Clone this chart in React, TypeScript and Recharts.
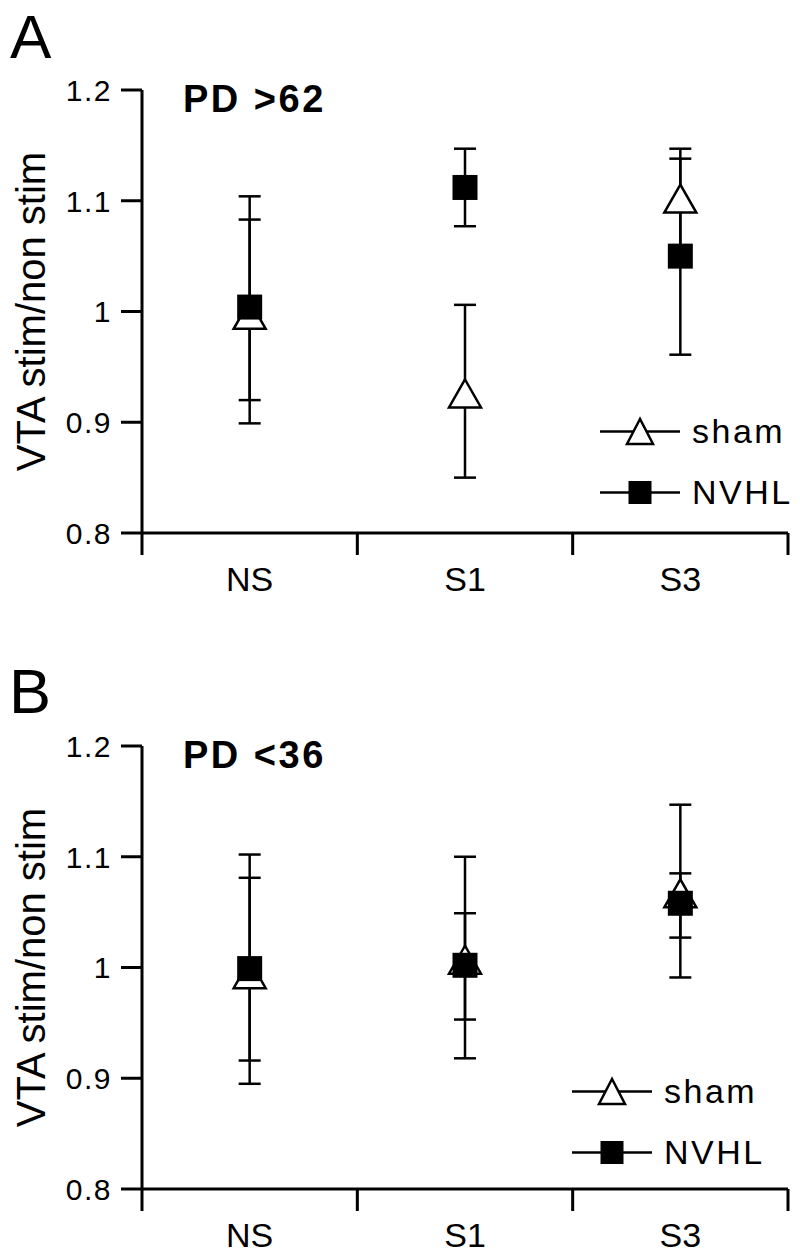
import React from 'react';
import { ScatterChart, Scatter, XAxis, YAxis, ErrorBar, Legend } from 'recharts';

const categories = ['NS', 'S1', 'S3'];
const seriesNames = ['sham', 'NVHL'];
const yTicks = [0.8, 0.9, 1, 1.1, 1.2];
const xBounds = [0, 0.5, 1, 1.5, 2, 2.5, 3];

// A: PD >62
const shamMeanA = [0.997, 0.926, 1.102];
const shamLowA = [0.92, 0.85, 1.057];
const shamHighA = [1.083, 1.006, 1.147];
const nvhlMeanA = [1.004, 1.112, 1.05];
const nvhlLowA = [0.899, 1.077, 0.961];
const nvhlHighA = [1.104, 1.147, 1.138];

// B: PD <36
const shamMeanB = [0.994, 1.007, 1.067];
const shamLowB = [0.916, 0.918, 0.991];
const shamHighB = [1.081, 1.1, 1.147];
const nvhlMeanB = [0.999, 1.002, 1.058];
const nvhlLowB = [0.895, 0.953, 1.027];
const nvhlHighB = [1.102, 1.049, 1.085];

const FONT = '"Liberation Sans", Arial, Helvetica, sans-serif';
const INK = '#000';
const X_TICK_LEN = 22;
const X_LABEL_GAP = 34;

const toRows = (mean: number[], low: number[], high: number[]) =>
  categories.map((c, i) => ({
    cat: c,
    x: i + 0.5,
    y: mean[i],
    err: [mean[i] - low[i], high[i] - mean[i]],
  }));

const Triangle = (props: any) => {
  const { cx, cy } = props;
  return (
    <polygon
      points={`${cx},${cy - 14} ${cx - 16},${cy + 14} ${cx + 16},${cy + 14}`}
      fill="#fff"
      stroke={INK}
      strokeWidth={2.5}
    />
  );
};

const Square = (props: any) => {
  const { cx, cy } = props;
  return <rect x={cx - 12.5} y={cy - 12.5} width={25} height={25} fill={INK} />;
};

const NoMark = () => <g />;

const CategoryTick = (props: any) => {
  const { x, y, payload } = props;
  const v = payload.value as number;
  if (Number.isInteger(v)) {
    const y0 = y - X_LABEL_GAP;
    return <line x1={x} x2={x} y1={y0} y2={y0 + X_TICK_LEN} stroke={INK} strokeWidth={3} />;
  }
  return (
    <text x={x} y={y} dy="0.72em" textAnchor="middle" fontSize={34} fontFamily={FONT} fill={INK}>
      {categories[Math.floor(v)]}
    </text>
  );
};

const ValueTick = (props: any) => {
  const { x, y, payload } = props;
  return (
    <text x={x} y={y} dy="0.36em" textAnchor="end" fontSize={30} letterSpacing={1.5} fontFamily={FONT} fill={INK}>
      {String(payload.value)}
    </text>
  );
};

const legendIcons: Record<string, React.ReactNode> = {
  sham: <polygon points="40,3 27,28 53,28" fill="#fff" stroke={INK} strokeWidth={2.5} />,
  NVHL: <rect x={28.5} y={4} width={23} height={23} fill={INK} />,
};

const LegendBox = (props: any) => {
  const { payload = [] } = props;
  const shown = seriesNames.filter((n) => payload.some((p: any) => p.value === n));
  return (
    <div style={{ fontFamily: FONT }}>
      {shown.map((name) => (
        <div key={name} style={{ display: 'flex', alignItems: 'center', height: 61 }}>
          <svg width={80} height={31}>
            <line x1={0} x2={80} y1={15.5} y2={15.5} stroke={INK} strokeWidth={2.5} />
            {legendIcons[name]}
          </svg>
          <span style={{ marginLeft: 12, fontSize: 34, letterSpacing: 2.5, color: INK }}>{name}</span>
        </div>
      ))}
    </div>
  );
};

const Panel = ({ top, sham, nvhl, legendLeft, legendTop }: any) => (
  <div style={{ position: 'absolute', left: 0, top }}>
    <ScatterChart width={800} height={600} margin={{ top: 90, right: 12, bottom: 0, left: 0 }}>
      <XAxis
        type="number"
        dataKey="x"
        domain={[0, 3]}
        ticks={xBounds}
        interval={0}
        tickLine={false}
        tickSize={0}
        tickMargin={X_LABEL_GAP}
        tick={CategoryTick}
        axisLine={{ stroke: INK, strokeWidth: 3 }}
        height={67}
      />
      <YAxis
        type="number"
        dataKey="y"
        domain={[0.8, 1.2]}
        ticks={yTicks}
        interval={0}
        width={142}
        tickSize={21}
        tickMargin={9}
        axisLine={{ stroke: INK, strokeWidth: 3 }}
        tickLine={{ stroke: INK, strokeWidth: 3 }}
        tick={ValueTick}
        label={{
          value: 'VTA stim/non stim',
          angle: -90,
          position: 'insideLeft',
          offset: 31,
          style: { textAnchor: 'middle', fontSize: 40, fontFamily: FONT, fill: INK },
        }}
      />
      <Scatter data={sham} shape={NoMark} legendType="none" isAnimationActive={false}>
        <ErrorBar dataKey="err" direction="y" width={11} stroke={INK} strokeWidth={2.5} />
      </Scatter>
      <Scatter data={nvhl} shape={NoMark} legendType="none" isAnimationActive={false}>
        <ErrorBar dataKey="err" direction="y" width={11} stroke={INK} strokeWidth={2.5} />
      </Scatter>
      <Scatter name="sham" data={sham} shape={Triangle} isAnimationActive={false} />
      <Scatter name="NVHL" data={nvhl} shape={Square} isAnimationActive={false} />
      <Legend
        layout="vertical"
        align="center"
        verticalAlign="middle"
        content={LegendBox}
        wrapperStyle={{ left: legendLeft, top: legendTop, width: 'auto' }}
      />
    </ScatterChart>
  </div>
);

export default function App() {
  return (
    <div style={{ position: 'absolute', left: 0, top: 0, width: 800, height: 1260, background: '#fff', overflow: 'hidden' }}>
      <Panel
        top={0}
        sham={toRows(shamMeanA, shamLowA, shamHighA)}
        nvhl={toRows(nvhlMeanA, nvhlLowA, nvhlHighA)}
        legendLeft={600}
        legendTop={401}
      />
      <Panel
        top={656}
        sham={toRows(shamMeanB, shamLowB, shamHighB)}
        nvhl={toRows(nvhlMeanB, nvhlLowB, nvhlHighB)}
        legendLeft={572}
        legendTop={405}
      />
      <svg width={800} height={1260} style={{ position: 'absolute', left: 0, top: 0, pointerEvents: 'none' }}>
        <text x={10} y={58} fontSize={62} fontFamily={FONT} fill={INK}>A</text>
        <text x={183} y={112} fontSize={38} fontWeight="bold" letterSpacing={2.5} fontFamily={FONT} fill={INK}>PD &gt;62</text>
        <text x={9} y={713} fontSize={63} fontFamily={FONT} fill={INK}>B</text>
        <text x={183} y={768} fontSize={38} fontWeight="bold" letterSpacing={2.5} fontFamily={FONT} fill={INK}>PD &lt;36</text>
      </svg>
    </div>
  );
}
